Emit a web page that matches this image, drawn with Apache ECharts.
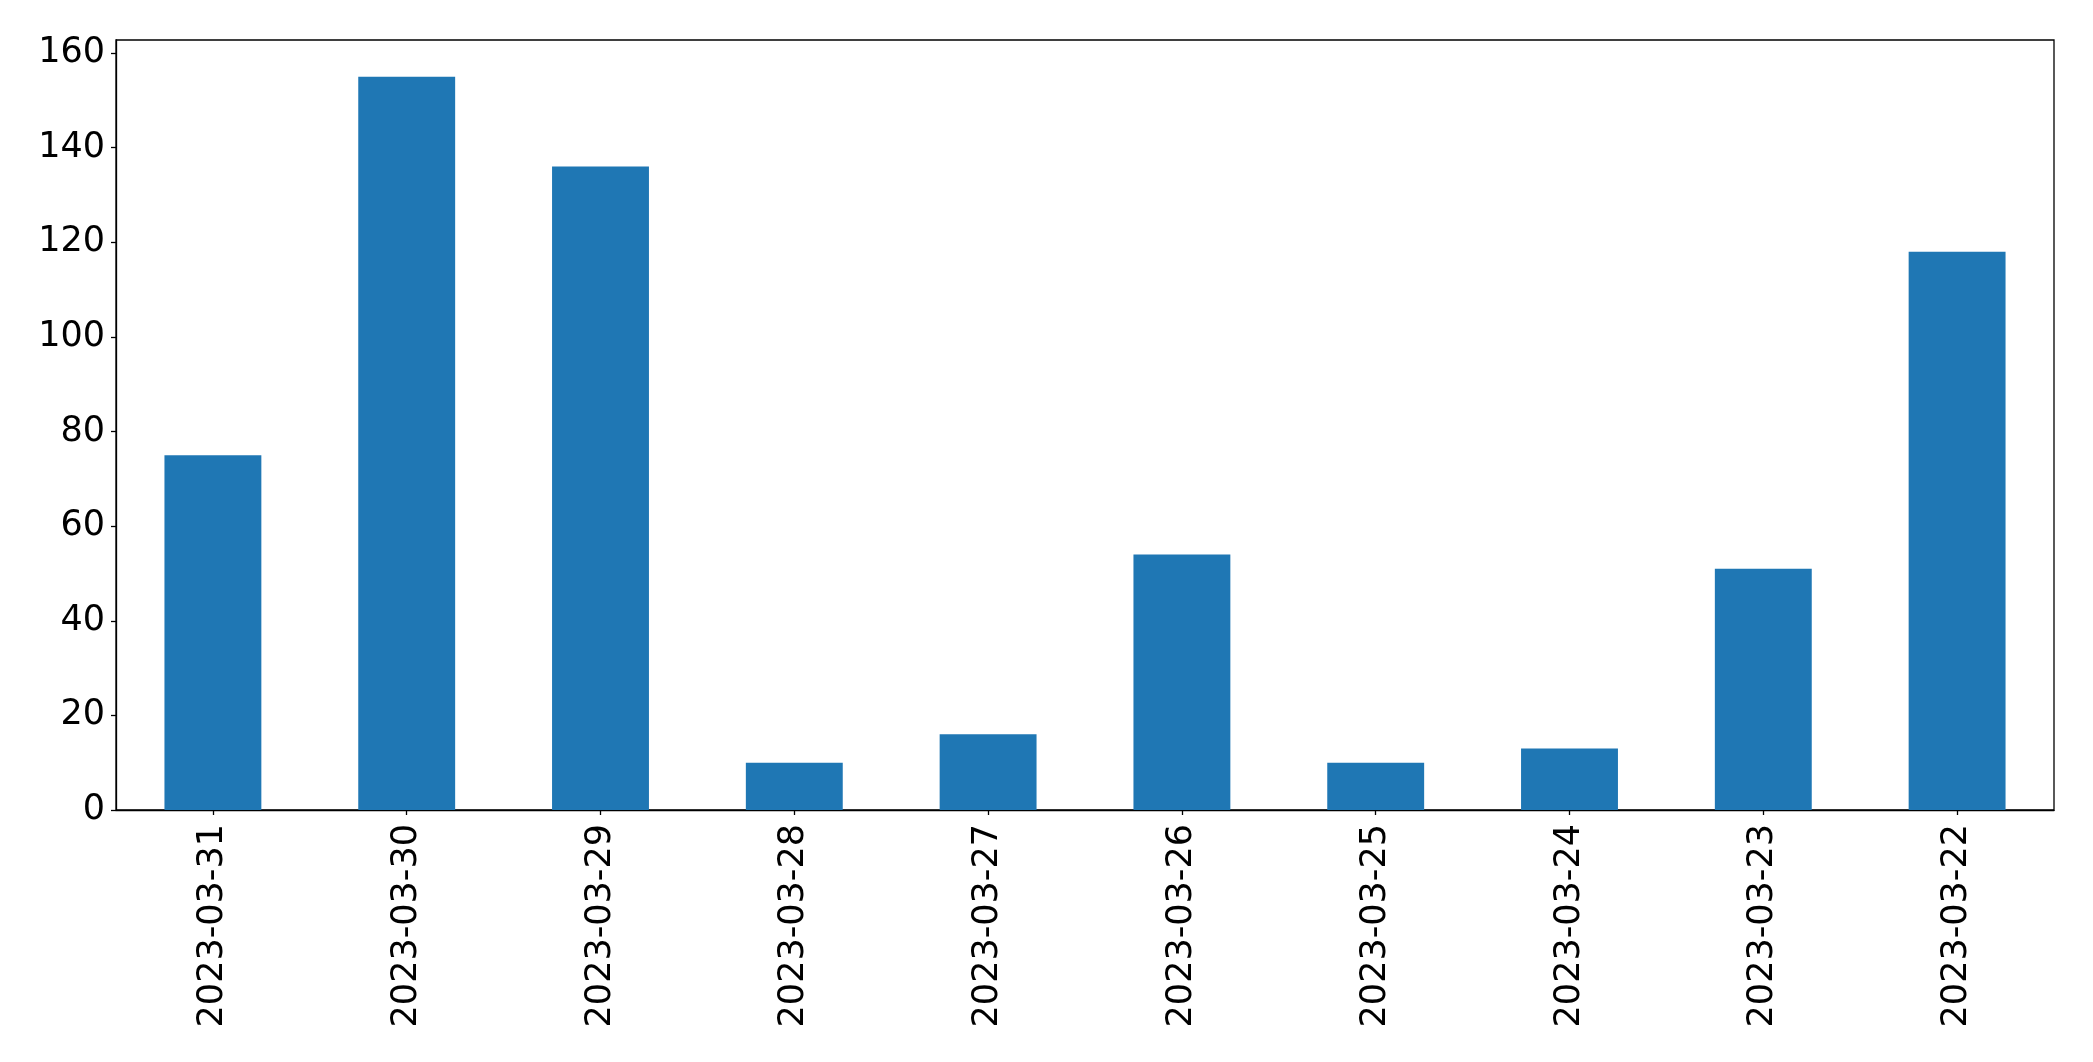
<!DOCTYPE html>
<html>
<head>
<meta charset="utf-8">
<script src="https://cdn.jsdelivr.net/npm/echarts@6/dist/echarts.min.js"></script>
<style>
html, body { margin: 0; padding: 0; background: #fff; }
#chart { width: 2093px; height: 1062px; }
</style>
</head>
<body>
<div id="chart"></div>
<script>
const categories = ['2023-03-31', '2023-03-30', '2023-03-29', '2023-03-28', '2023-03-27', '2023-03-26', '2023-03-25', '2023-03-24', '2023-03-23', '2023-03-22'];
const values = [75, 155, 136, 10, 16, 54, 10, 13, 51, 118];
const yTicks = [0, 20, 40, 60, 80, 100, 120, 140, 160];

const chart = echarts.init(document.getElementById('chart'), null, { renderer: 'canvas' });
const font = 'DejaVu Sans';
chart.setOption({
  animation: false,
  backgroundColor: '#ffffff',
  grid: {
    left: 116, right: 39, top: 40, bottom: 252,
    show: true, borderColor: '#000', borderWidth: 1.3, backgroundColor: 'transparent'
  },
  xAxis: {
    type: 'category',
    data: categories,
    boundaryGap: true,
    axisLine: { show: true, lineStyle: { color: '#000', width: 1.3 } },
    axisTick: { show: true, alignWithLabel: true, length: 5, lineStyle: { color: '#000', width: 1.3 } },
    axisLabel: { rotate: 90, color: '#000', fontSize: 35, fontFamily: font, margin: 14, interval: 0 },
    splitLine: { show: false }
  },
  yAxis: {
    type: 'value',
    min: 0, max: 162.75, interval: 20,
    axisLine: { show: true, lineStyle: { color: '#000', width: 1.3 } },
    axisTick: { show: true, length: 5, customValues: yTicks, lineStyle: { color: '#000', width: 1.3 } },
    axisLabel: { color: '#000', fontSize: 35, fontFamily: font, margin: 11, customValues: yTicks, padding: [5, 0, 0, 0] },
    splitLine: { show: false }
  },
  series: [{
    type: 'bar',
    data: values,
    barWidth: '50%',
    itemStyle: { color: '#1f77b4' }
  }]
});
</script>
</body>
</html>
